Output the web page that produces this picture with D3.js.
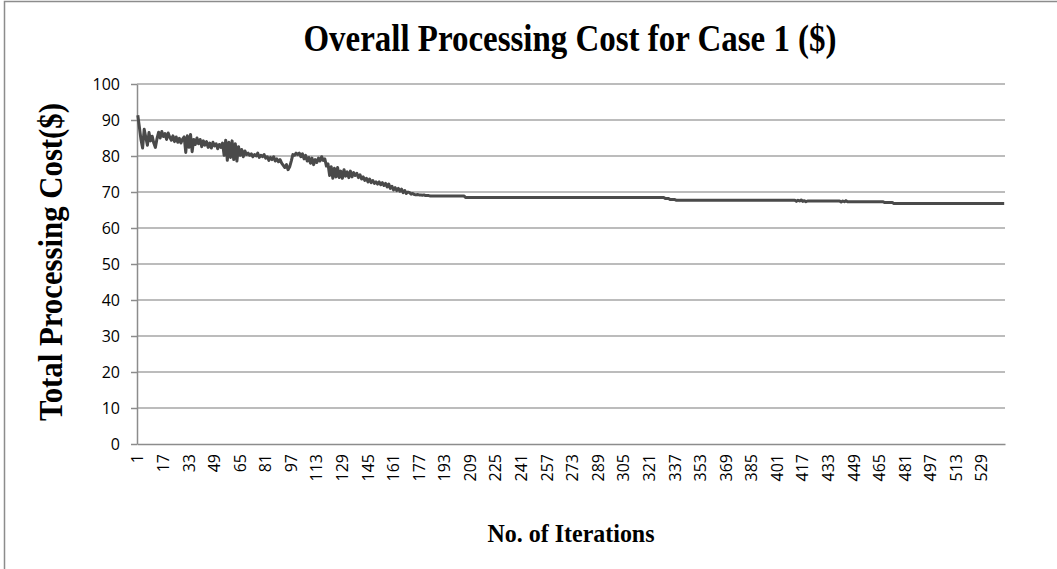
<!DOCTYPE html>
<html>
<head>
<meta charset="utf-8">
<script src="https://cdn.jsdelivr.net/npm/d3@7"></script>
<style>
  html, body { margin: 0; padding: 0; background: #fff; }
  svg { display: block; }
  .axis text { font-family: 'Open Sans', 'DejaVu Sans', sans-serif; font-size: 16px; fill: #000; }
</style>
</head>
<body>
<svg id="chart" width="1057" height="569"></svg>
<script>
/* ── Overall processing cost, case 1 ─────────────────────────── */

// noisy search phase, iterations 1..185
const startCost = [
  91.3, 88.0, 84.5, 82.2, 87.4, 85.2, 83.0, 86.5, 84.2, 85.5,
  83.6, 82.4, 84.8, 86.6, 85.0, 86.8, 85.4, 86.2, 84.6, 86.4,
  85.2, 84.4, 85.6, 84.0, 85.3, 83.8, 84.9, 83.6, 84.7, 85.3,
  81.0, 85.6, 82.4, 86.0, 81.2, 84.6, 83.2, 85.0, 83.4, 84.6,
  82.6, 84.2, 83.0, 84.0, 82.4, 83.6, 82.2, 83.8, 82.8, 83.4,
  82.0, 83.2, 82.4, 83.6, 80.2, 84.4, 78.8, 83.8, 79.6, 84.2,
  79.0, 83.4, 78.6, 82.6, 80.2, 81.8, 79.8, 81.4, 80.4, 80.8,
  80.2, 80.6, 79.8, 80.4, 80.0, 80.8, 79.6, 80.2, 79.8, 80.4,
  79.4, 79.8, 78.8, 79.6, 79.0, 79.8, 78.6, 79.2, 78.4, 79.0,
  78.0, 77.4, 76.8, 77.6, 76.2, 77.0, 78.6, 80.4, 80.2, 80.8,
  80.4, 80.8, 79.8, 80.6, 79.2, 80.2, 78.6, 79.6, 78.0, 79.4,
  77.6, 79.0, 78.2, 79.4, 78.6, 79.8, 78.8, 79.2, 77.2, 77.8,
  74.6, 77.0, 73.8, 76.6, 74.2, 76.8, 74.0, 75.8, 73.8, 76.2,
  74.4, 75.6, 74.0, 75.8, 74.2, 75.4, 74.6, 75.2, 74.0, 74.8,
  73.6, 74.2, 73.2, 73.8, 72.8, 73.6, 72.6, 73.2, 72.4, 72.8,
  72.2, 72.8, 72.0, 72.6, 71.8, 72.4, 71.4, 72.2, 71.0, 71.6,
  70.6, 71.2, 70.4, 71.0, 70.2, 70.8, 69.8, 70.4, 69.6, 70.0,
  69.8, 69.4, 69.6, 69.3, 69.2, 69.3, 69.2, 69.2, 69.1, 69.2,
  69.0, 69.0, 69.0, 68.9, 68.9
];

// converged phase: flat levels and how many iterations each one lasts
const tailLevels = [68.9, 68.5, 68.2, 67.9, 67.7, 67.4, 67.7, 67.5, 67.8, 67.4, 67.6, 67.3, 67.5,
                    67.2, 67.5, 67.3, 67.6, 67.3, 67.1, 66.8];
const tailCounts = [20,   125,  3,    4,    75,   1,    1,    1,    1,    1,    1,    1,    21,
                    1,    1,    1,    1,    23,   6,    70];

const yTicks    = [0, 10, 20, 30, 40, 50, 60, 70, 80, 90, 100];
const labelStep = 16;   // every 16th iteration gets a label

const cost = startCost.slice();
tailLevels.forEach((v, i) => {
  for (let k = 0; k < tailCounts[i]; k++) cost.push(v);
});
const iterations = cost.map((_, i) => i + 1);

// ── Layout ────────────────────────────────────────────────────────
const W = 1057, H = 569;
const plot = { left: 137, right: 1005, top: 84, bottom: 444 };
const AXIS_GREY = "#8c8c8c";
const SERIF = "'Liberation Serif', 'Times New Roman', serif";

const svg = d3.select("#chart");

// chart frame (right / bottom edges fall outside the crop)
svg.append("rect")
  .attr("x", 4.5).attr("y", 1.5)
  .attr("width", W + 20).attr("height", H + 20)
  .attr("fill", "#fff")
  .attr("stroke", AXIS_GREY)
  .attr("stroke-width", 1.5);

const x = d3.scaleBand().domain(iterations).range([plot.left, plot.right]);
const y = d3.scaleLinear().domain([0, 100]).range([plot.bottom, plot.top]);

// gridlines
svg.append("g").attr("class", "grid")
  .selectAll("line")
  .data(yTicks.filter(d => d > 0))
  .join("line")
    .attr("x1", plot.left).attr("x2", plot.right)
    .attr("y1", d => y(d)).attr("y2", d => y(d))
    .attr("stroke", "#a6a6a6")
    .attr("stroke-width", 1.5);

// y axis
const gy = svg.append("g")
  .attr("class", "axis")
  .attr("transform", `translate(${plot.left},0)`)
  .call(d3.axisLeft(y).tickValues(yTicks).tickSize(6).tickSizeOuter(0).tickPadding(11));
gy.select(".domain").attr("stroke", AXIS_GREY).attr("stroke-width", 1.5);
gy.selectAll(".tick line").attr("stroke", AXIS_GREY).attr("stroke-width", 1.5);

// x axis (category labels rotated)
const gx = svg.append("g")
  .attr("class", "axis")
  .attr("transform", `translate(0,${plot.bottom})`)
  .call(d3.axisBottom(x)
    .tickValues(iterations.filter((d, i) => i % labelStep === 0))
    .tickSize(0).tickSizeOuter(0));
gx.select(".domain").attr("stroke", AXIS_GREY).attr("stroke-width", 1.5);
gx.selectAll(".tick text")
  .attr("transform", "rotate(-90)")
  .attr("text-anchor", "end")
  .attr("x", -10).attr("y", 0).attr("dy", ".35em");

// cost line
const line = d3.line()
  .x((d, i) => x(iterations[i]) + x.bandwidth() / 2)
  .y(d => y(d));

svg.append("path")
  .datum(cost)
  .attr("d", line)
  .attr("fill", "none")
  .attr("stroke", "#4a4a4a")
  .attr("stroke-width", 3)
  .attr("stroke-linejoin", "round");

// ── Titles ────────────────────────────────────────────────────────
svg.append("text")
  .attr("x", 570).attr("y", 51)
  .attr("text-anchor", "middle")
  .attr("font-family", SERIF).attr("font-weight", "bold").attr("font-size", 37)
  .attr("textLength", 533).attr("lengthAdjust", "spacingAndGlyphs")
  .text("Overall Processing Cost for Case 1 ($)");

svg.append("text")
  .attr("transform", "translate(62,262) rotate(-90)")
  .attr("text-anchor", "middle")
  .attr("font-family", SERIF).attr("font-weight", "bold").attr("font-size", 33)
  .attr("textLength", 318).attr("lengthAdjust", "spacingAndGlyphs")
  .text("Total Processing Cost($)");

svg.append("text")
  .attr("x", 571).attr("y", 542)
  .attr("text-anchor", "middle")
  .attr("font-family", SERIF).attr("font-weight", "bold").attr("font-size", 25)
  .attr("textLength", 167).attr("lengthAdjust", "spacingAndGlyphs")
  .text("No. of Iterations");
</script>
</body>
</html>
